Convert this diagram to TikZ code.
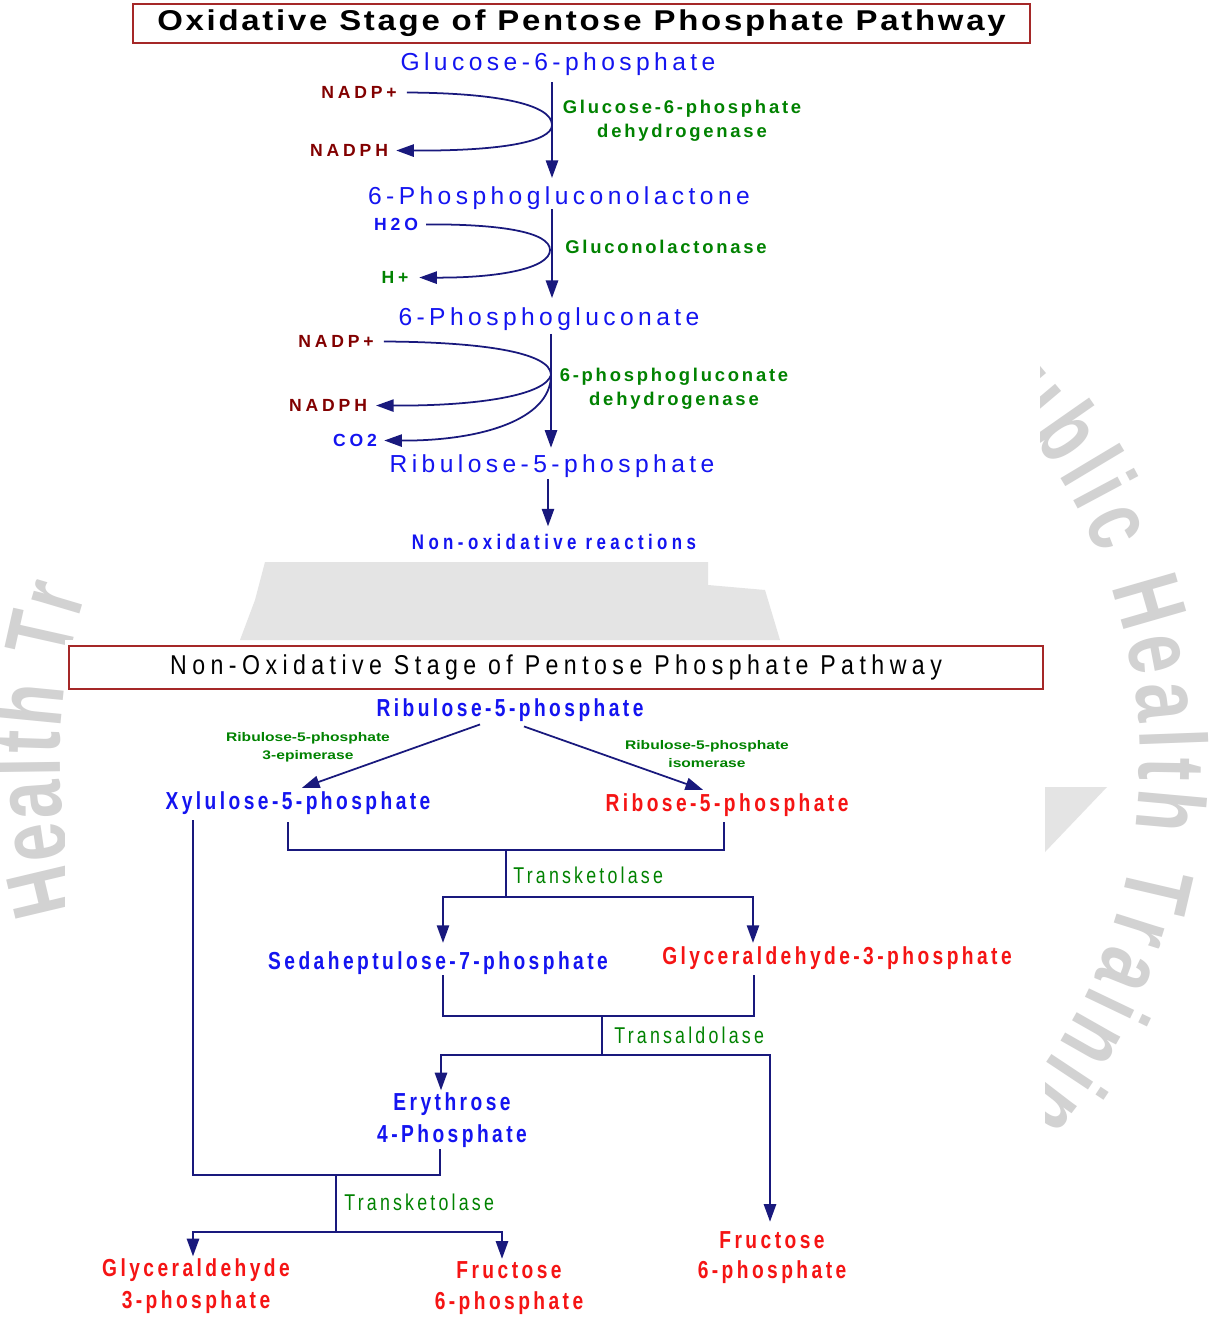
\documentclass[tikz,border=0pt]{standalone}
\usepackage{fontspec}
\setmainfont{Liberation Sans}
\newfontfamily\wmfont[FakeStretch=0.72]{Liberation Sans Bold}
\usetikzlibrary{arrows.meta,calc,decorations.text}
\definecolor{cpdblue}{RGB}{20,20,240}
\definecolor{cpdred}{RGB}{245,20,20}
\definecolor{enzgreen}{RGB}{0,130,0}
\definecolor{cofred}{RGB}{130,0,0}
\definecolor{arrnavy}{RGB}{25,25,125}
\definecolor{boxred}{RGB}{165,40,40}
\definecolor{wmgray}{RGB}{210,210,210}
\definecolor{logogray}{RGB}{228,228,228}

\begin{document}
\begin{tikzpicture}[x=0.02cm,y=-0.02cm,
  ttl/.style={draw=boxred,line width=1.1pt,inner sep=0pt,text=black,
    font=\bfseries\fontsize{16.3}{19}\selectfont\addfontfeatures{FakeStretch=1.15,LetterSpace=9.5}},
  ttlb/.style={draw=boxred,line width=1.1pt,inner sep=0pt,text=black,
    font=\fontsize{15.5}{18}\selectfont\addfontfeatures{FakeStretch=0.85,LetterSpace=20}},
  top/.style={inner sep=0pt,anchor=base,text=cpdblue,
    font=\fontsize{14}{16}\selectfont\addfontfeatures{LetterSpace=18}},
  cof/.style={inner sep=0pt,anchor=base,text=cofred,
    font=\bfseries\fontsize{10}{12}\selectfont\addfontfeatures{LetterSpace=22}},
  enz/.style={inner sep=0pt,align=center,text=enzgreen,
    font=\bfseries\fontsize{10.5}{13.6}\selectfont\addfontfeatures{LetterSpace=15}},
  low/.style={inner sep=0pt,anchor=base,align=center,text=cpdblue,
    font=\bfseries\fontsize{14}{18.1}\selectfont\addfontfeatures{FakeStretch=0.78,LetterSpace=14}},
  lenz/.style={inner sep=0pt,anchor=base west,text=enzgreen,
    font=\fontsize{13}{15}\selectfont\addfontfeatures{FakeStretch=0.78,LetterSpace=14}},
  tiny/.style={inner sep=0pt,align=center,text=enzgreen,
    font=\bfseries\fontsize{7.1}{10.2}\selectfont\addfontfeatures{FakeStretch=1.25}},
  ln/.style={draw=arrnavy,line width=1pt},
  arr/.style={ln,-{Triangle[length=10pt,width=7pt]}},
  wm/.style={decorate,decoration={text along path,text align=fit to path,
    text={|\wmfont\fontsize{54}{54}\selectfont\color{wmgray}|#1}}}]
% ---------- background and watermark ----------
\fill[white] (0,0) rectangle (1225,1325);
\useasboundingbox (0,0) rectangle (1225,1325);
\begin{scope}[x=1cm,y=1cm]
  \path[wm={Public Health Training}] (12,-15.2) ++(48:10.8) arc[start angle=48,end angle=-45,radius=10.8];
  \path[wm={Health Tr}] (12,-15.2) ++(196:10.8) arc[start angle=196,end angle=162,radius=10.8];
\end{scope}
\fill[white] (0,0) rectangle (1225,300);
\fill[white] (0,0) rectangle (1040,555);
\fill[white] (60,0) rectangle (1040,562);
\fill[white] (65,640) rectangle (1045,1325);
\fill[white] (0,1140) rectangle (1225,1325);
\fill[logogray] (265,562) -- (708,562) -- (708,585) -- (765,590) -- (780,640) -- (240,640) -- (255,600) -- cycle;
\fill[logogray] (1045,787) -- (1107,787) -- (1045,852) -- cycle;
% ================= oxidative stage =================
\node[ttl,minimum width=17.94cm,minimum height=0.78cm] (ttlA) at (581.5,23.5) {Oxidative Stage of Pentose Phosphate Pathway};
\node[top] (g6p) at (558,70) {Glucose-6-phosphate};
\node[cof] (nadpA) at (359,98.5) {NADP+};
\node[cof] (nadphA) at (349,156.5) {NADPH};
\node[enz] (enzA) at (682,121) {Glucose-6-phosphate\\dehydrogenase};
\node[top] (pgl) at (559,204) {6-Phosphogluconolactone};
\node[cof,text=cpdblue] (h2o) at (396,230.5) {H2O};
\node[cof,text=enzgreen] (hplus) at (395,283.5) {H+};
\node[enz,anchor=base] (enzB) at (666,253) {Gluconolactonase};
\node[top] (pgn) at (549,325) {6-Phosphogluconate};
\node[cof] (nadpB) at (336,347.5) {NADP+};
\node[cof] (nadphB) at (328,411.5) {NADPH};
\node[cof,text=cpdblue] (co2) at (355,446.5) {CO2};
\node[enz] (enzC) at (674,389) {6-phosphogluconate\\dehydrogenase};
\node[top] (ru5p) at (552,472) {Ribulose-5-phosphate};
\node[low,font=\bfseries\fontsize{12}{14}\selectfont\addfontfeatures{FakeStretch=0.8,LetterSpace=21}] (nonox) at (554,549) {Non-oxidative reactions};
% main line of the stage
\coordinate (colA) at (552,0);
\coordinate (colB) at (551,0);
\coordinate (colC) at (548,0);
\draw[arr,shorten <=4pt,shorten >=4.5pt] (g6p.south -| colA) -- (pgl.north -| colA);
\draw[arr,shorten >=5pt] (pgl.south -| colA) -- (pgn.north -| colA);
\draw[arr,shorten <=2pt,shorten >=3.5pt] (pgn.south -| colB) -- (ru5p.north -| colB);
\draw[arr,shorten <=1pt,shorten >=4pt] (ru5p.south -| colC) -- (nonox.north -| colC);
% cofactor loops
\coordinate (bendA) at (552,125);
\coordinate (bendB) at (550,250);
\coordinate (bendC) at (551,375);
\draw[arr,shorten <=5.5pt,shorten >=4.5pt] (nadpA.east) .. controls (500,93) and (552,105) .. (bendA)
  .. controls (552,142) and (500,151) .. (nadphA.east);
\draw[arr,shorten <=4.5pt,shorten >=6pt] (h2o.east) .. controls (500,224) and (550,232) .. (bendB)
  .. controls (550,268) and (500,278) .. (hplus.east);
\draw[ln,shorten <=5.5pt] (nadpB.east) .. controls (480,342) and (551,352) .. (bendC);
\draw[arr,shorten >=5pt] (bendC) .. controls (545,395) and (480,406) .. (nadphB.east);
\draw[arr,shorten >=4pt] (bendC) .. controls (551,420) and (480,441) .. (co2.east);
% ================= non-oxidative stage =================
\node[ttlb,minimum width=19.48cm,minimum height=0.86cm] (ttlB) at (556,667.5) {Non-Oxidative Stage of Pentose Phosphate Pathway};
\node[low] (ru5pL) at (510,716) {Ribulose-5-phosphate};
\node[tiny] (epi) at (308,747) {Ribulose-5-phosphate\\3-epimerase};
\node[tiny] (iso) at (707,754) {Ribulose-5-phosphate\\isomerase};
\node[low] (xu5p) at (298,809) {Xylulose-5-phosphate};
\node[low,text=cpdred] (r5p) at (727,811) {Ribose-5-phosphate};
\node[lenz] (tkA) at (513,883) {Transketolase};
\node[low] (s7p) at (438,969) {Sedaheptulose-7-phosphate};
\node[low,text=cpdred] (g3pA) at (837,964) {Glyceraldehyde-3-phosphate};
\node[lenz] (tal) at (614,1043) {Transaldolase};
\node[low,anchor=center] (e4p) at (452,1120) {Erythrose\\4-Phosphate};
\node[lenz] (tkB) at (344,1210) {Transketolase};
\node[low,anchor=center,text=cpdred] (g3pB) at (196,1286) {Glyceraldehyde\\3-phosphate};
\node[low,anchor=center,text=cpdred] (f6pA) at (509,1288) {Fructose\\6-phosphate};
\node[low,anchor=center,text=cpdred,font=\bfseries\fontsize{14}{17}\selectfont\addfontfeatures{FakeStretch=0.78,LetterSpace=14}] (f6pB) at (772,1258) {Fructose\\6-phosphate};
% isomerisation
\draw[arr] ($(ru5pL.south)+(-30,3)$) -- ($(xu5p.north)+(4,-3)$);
\draw[arr] ($(ru5pL.south)+(14,5)$) -- ($(r5p.north)+(-24,-3)$);
% transketolase 1
\coordinate (jA) at (506,850);
\coordinate (jB) at (506,897);
\draw[ln] ($(xu5p.south)+(-10,8)$) |- (jA) -| ($(r5p.south)+(-3,6)$);
\draw[ln] (jA) -- (jB);
\draw[arr] (jB) -| ($(s7p.north)+(5,-8)$);
\draw[arr] (jB) -| ($(g3pA.north)+(-84,-3)$);
% transaldolase
\coordinate (jC) at (602,1016);
\coordinate (jD) at (602,1055);
\draw[ln] ($(s7p.south)+(5,1)$) |- (jC) -| ($(g3pA.south)+(-83,6)$);
\draw[ln] (jC) -- (jD);
\draw[arr] (jD) -| ($(e4p.north)+(-11,-2)$);
\draw[arr] (jD) -| ($(f6pB.north)+(-2,-10)$);
% transketolase 2
\coordinate (jE) at (336,1175);
\coordinate (jF) at (336,1232);
\draw[ln] ($(xu5p.south)+(-105,6)$) |- (jE) -| ($(e4p.south)+(-12,1)$);
\draw[ln] (jE) -- (jF);
\draw[arr] (jF) -| ($(g3pB.north)+(-3,-2)$);
\draw[arr] (jF) -| ($(f6pA.north)+(-7,-2)$);
\end{tikzpicture}
\end{document}
